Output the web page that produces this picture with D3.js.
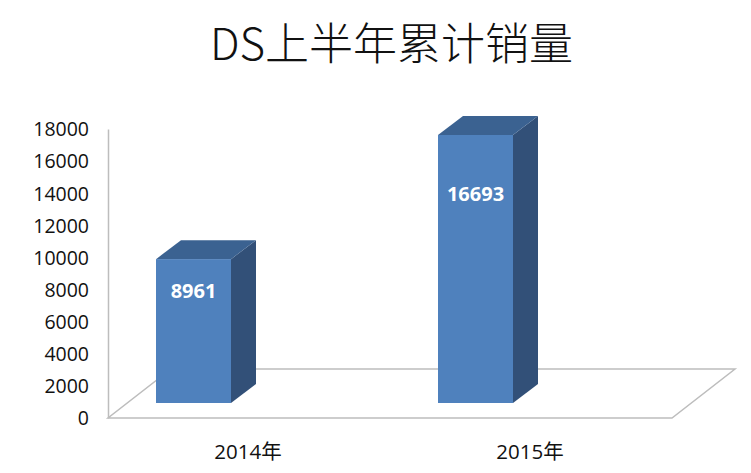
<!DOCTYPE html>
<html>
<head>
<meta charset="utf-8">
<script src="https://cdn.jsdelivr.net/npm/d3@7"></script>
<style>
html, body { margin: 0; padding: 0; background: #fff; }
</style>
</head>
<body>
<div id="chart-area"></div>
<script>
var categories = ["2014年", "2015年"];
var sales = [8961, 16693];
var yTicks = [0, 2000, 4000, 6000, 8000, 10000, 12000, 14000, 16000, 18000];
var titleText = "DS上半年累计销量";

var width = 751;
var height = 473;

var svg = d3.select("#chart-area")
    .append("svg")
    .attr("width", width)
    .attr("height", height)
    .style("display", "block");

var x = d3.scaleBand()
    .domain(categories)
    .range([107, 671]);

var y = d3.scaleLinear()
    .domain([0, 18000])
    .range([418, 129]);

var labelFont = "'Open Sans', 'Noto Sans CJK SC', sans-serif";

// floor of the 3d box
var floorLeft = 108, floorRight = 672;
var floorDx = 63, floorDy = -49;
var floorPts = [
    [floorLeft, y(0)],
    [floorRight, y(0)],
    [floorRight + floorDx, y(0) + floorDy],
    [floorLeft + floorDx, y(0) + floorDy]
];
svg.append("polygon")
    .attr("points", floorPts.join(" "))
    .attr("fill", "#fff")
    .attr("stroke", "#bdbdbd")
    .attr("stroke-width", 1.5);

// value axis
var yAxis = d3.axisLeft(y)
    .tickValues(yTicks)
    .tickFormat(d3.format("d"))
    .tickSize(0)
    .tickPadding(19);

var axisG = svg.append("g")
    .attr("transform", "translate(108,0)")
    .call(yAxis);
axisG.select(".domain")
    .attr("stroke", "#bdbdbd")
    .attr("stroke-width", 1.5);
axisG.selectAll("text")
    .attr("font-family", labelFont)
    .attr("font-size", 19.5)
    .attr("dy", "0.35em")
    .attr("fill", "#111");

// category axis
var xAxis = d3.axisBottom(x)
    .tickSize(0)
    .tickPadding(26);

var xAxisG = svg.append("g")
    .attr("transform", "translate(0,418)")
    .call(xAxis);
xAxisG.select(".domain").remove();
xAxisG.selectAll("text")
    .attr("font-family", labelFont)
    .attr("font-size", 20.5)
    .attr("fill", "#111");

// bars
var barWidth = 75, barShiftX = -54.5, barLift = 15;
var depthX = 25, depthY = -19;

var bars = svg.selectAll(".bar")
    .data(categories.map(function(c, i) {
        return { name: c, value: sales[i] };
    }))
    .enter()
    .append("g")
    .attr("class", "bar");

function barLeft(d) {
    return x(d.name) + x.bandwidth() / 2 + barShiftX - barWidth / 2;
}
function barTop(d) {
    return y(d.value) - barLift;
}
function barBottom() {
    return y(0) - barLift;
}

bars.append("polygon")
    .attr("fill", "#325078")
    .attr("points", function(d) {
        var r = barLeft(d) + barWidth;
        return [
            [r, barTop(d)],
            [r + depthX, barTop(d) + depthY],
            [r + depthX, barBottom() + depthY],
            [r, barBottom()]
        ].join(" ");
    });

bars.append("polygon")
    .attr("fill", "#3b6291")
    .attr("points", function(d) {
        var l = barLeft(d);
        return [
            [l, barTop(d)],
            [l + depthX, barTop(d) + depthY],
            [l + barWidth + depthX, barTop(d) + depthY],
            [l + barWidth, barTop(d)]
        ].join(" ");
    });

bars.append("rect")
    .attr("x", barLeft)
    .attr("y", barTop)
    .attr("width", barWidth)
    .attr("height", function(d) {
        return barBottom() - barTop(d);
    })
    .attr("fill", "#4f81bd");

// value labels sit about a fifth of the way down the front face
bars.append("text")
    .attr("x", function(d) {
        return barLeft(d) + barWidth / 2;
    })
    .attr("y", function(d) {
        return barTop(d) + (barBottom() - barTop(d)) * 0.218;
    })
    .attr("dy", "0.36em")
    .attr("text-anchor", "middle")
    .attr("font-family", labelFont)
    .attr("font-size", 20)
    .attr("font-weight", "bold")
    .attr("fill", "#fff")
    .text(function(d) {
        return d.value;
    });

// title
svg.append("text")
    .attr("x", 391.5)
    .attr("y", 60)
    .attr("text-anchor", "middle")
    .attr("font-family", "'Noto Sans CJK SC', sans-serif")
    .attr("font-size", 44)
    .attr("font-weight", 300)
    .attr("fill", "#111")
    .text(titleText);
</script>
</body>
</html>
